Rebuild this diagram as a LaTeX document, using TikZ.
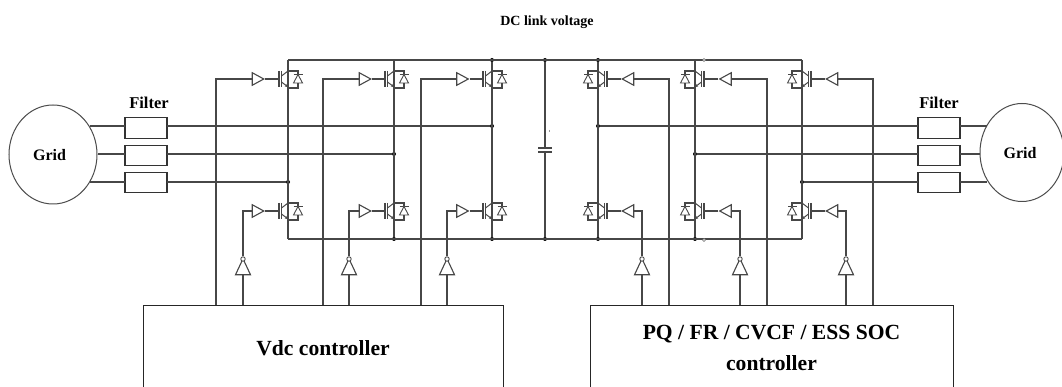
\documentclass[tikz,border=0pt]{standalone}
\usepackage{fontspec}
\setmainfont{Liberation Serif}
\usetikzlibrary{arrows.meta,shapes.geometric}

\tikzset{
  wire/.style={draw=black!72, line width=1.25pt},
  busline/.style={draw=black!72, line width=1.5pt},
  filterbox/.style={rectangle, draw=black!80, line width=1.1pt, fill=white, minimum width=42pt, minimum height=20.5pt, inner sep=0pt},
  gridnode/.style={ellipse, draw=black!70, line width=1pt, fill=white, inner sep=0pt},
  ctrlbox/.style={rectangle, draw=black!85, line width=1pt, minimum height=86pt, inner sep=0pt, align=center, font=\fontsize{21.6}{31}\selectfont\bfseries},
  label/.style={inner sep=0pt, font=\fontsize{16.5}{18}\selectfont\bfseries},
  buffer/.style={isosceles triangle, isosceles triangle stretches, draw=black!72, line width=1.1pt, inner sep=0pt, minimum width=12.5pt, minimum height=11.5pt},
  inverter/.style={isosceles triangle, isosceles triangle stretches, shape border rotate=90, draw=black!72, line width=1.1pt, inner sep=0pt, minimum width=15pt, minimum height=16pt},
  bubble/.style={circle, draw=black!72, line width=.9pt, fill=white, inner sep=0pt, minimum size=4.4pt},
  jdot/.style={circle, fill=black, inner sep=0pt, minimum size=4pt},
  igbt/.pic={
    \draw[black!72, line width=1.2pt] (-9,-8) -- (-9,8);
    \draw[black!72, line width=1.4pt] (-6.5,-8) -- (-6.5,8);
    \draw[wire, line width=1pt] (-6.5,-3) -- (0,-8);
    \draw[wire, line width=1pt, -{Stealth[length=3pt,width=3pt]}] (-6.5,3) -- (0,8);
    \draw[wire, line width=1.1pt] (0,-8) -- (10,-8) -- (10,9) -- (0,9);
    \draw[wire, line width=.9pt] (5.5,-4.5) -- (14.5,-4.5);
    \draw[wire, line width=.9pt, fill=white] (10,-4.5) -- (5.5,4) -- (14.5,4) -- cycle;
    \draw[wire] (0,-8) -- (0,9);
    \coordinate (-gate) at (-9,0);
    \coordinate (-top) at (0,-8);
    \coordinate (-bot) at (0,9);
  }
}

\begin{document}
\begin{tikzpicture}[x=1pt,y=-1pt]

  \useasboundingbox (0,0) rectangle (1062,387);
  \clip (0,0) rectangle (1062,387);

  % bus ends and capacitor
  \coordinate (tl) at (288,60);
  \coordinate (tr) at (802,60);
  \coordinate (bl) at (288,239);
  \coordinate (br) at (802,239);
  \coordinate (cu) at (545,148);
  \coordinate (cd) at (545,152);
  \coordinate (t2) at (394,60);
  \coordinate (t5) at (695,60);

  % junctions
  \begin{scope}[every node/.style={jdot}]
    \node (t3) at (492,60) {};
    \node (tc) at (545,60) {};
    \node (t4) at (598,60) {};
    \node (b2) at (394,239) {};
    \node (b3) at (492,239) {};
    \node (bc) at (545,239) {};
    \node (b4) at (598,239) {};
    \node (b5) at (695,239) {};
    \node (p1) at (288,182) {};
    \node (p2) at (394,154) {};
    \node (p3) at (492,126) {};
    \node (p4) at (598,126) {};
    \node (p5) at (695,154) {};
    \node (p6) at (802,182) {};
  \end{scope}

  % switches
  \pic (u1) at (288,79) {igbt};
  \pic (u2) at (394,79) {igbt};
  \pic (u3) at (492,79) {igbt};
  \pic[xscale=-1] (u4) at (598,79) {igbt};
  \pic[xscale=-1] (u5) at (695,79) {igbt};
  \pic[xscale=-1] (u6) at (802,79) {igbt};
  \pic (d1) at (288,211) {igbt};
  \pic (d2) at (394,211) {igbt};
  \pic (d3) at (492,211) {igbt};
  \pic[xscale=-1] (d4) at (598,211) {igbt};
  \pic[xscale=-1] (d5) at (695,211) {igbt};
  \pic[xscale=-1] (d6) at (802,211) {igbt};

  \draw[busline] (tl) -- (tr);
  \draw[busline] (bl) -- (br);

  \begin{scope}[every path/.style={wire}]
    \draw (tl) -- (u1-top);
    \draw (t2) -- (u2-top);
    \draw (t3) -- (u3-top);
    \draw (t4) -- (u4-top);
    \draw (t5) -- (u5-top);
    \draw (tr) -- (u6-top);
    \draw (u1-bot) -- (d1-top);
    \draw (u2-bot) -- (d2-top);
    \draw (u3-bot) -- (d3-top);
    \draw (u4-bot) -- (d4-top);
    \draw (u5-bot) -- (d5-top);
    \draw (u6-bot) -- (d6-top);
    \draw (d1-bot) -- (bl);
    \draw (d2-bot) -- (b2);
    \draw (d3-bot) -- (b3);
    \draw (d4-bot) -- (b4);
    \draw (d5-bot) -- (b5);
    \draw (d6-bot) -- (br);
    \draw (tc) -- (cu);
    \draw (cd) -- (bc);
    \draw[line width=1.4pt] (538,148) -- (552,148);
    \draw[line width=1.4pt] (538,152) -- (552,152);
  \end{scope}
  \draw[black!40, line width=.7pt] (549,130) -- (549,132);

  % the two small marks on the buses
  \node[bubble, minimum size=3pt, line width=.5pt, draw=black!60] (m1) at (704,60) {};
  \node[bubble, minimum size=3pt, line width=.5pt, draw=black!60] (m2) at (704,240) {};

  % grids and filters
  \node[gridnode, minimum width=88pt, minimum height=99pt] (gridl) at (53,154.5) {};
  \node[gridnode, minimum width=84pt, minimum height=98pt] (gridr) at (1022,152.5) {};
  \node[label, font=\fontsize{16}{18}\selectfont\bfseries] (gridlt) at (49.5,155) {Grid};
  \node[label, font=\fontsize{16}{18}\selectfont\bfseries] (gridrt) at (1020,153) {Grid};

  \node[filterbox] (f1) at (146,128) {};
  \node[filterbox] (f2) at (146,155.5) {};
  \node[filterbox] (f3) at (146,182.5) {};
  \node[filterbox] (f4) at (939,128) {};
  \node[filterbox] (f5) at (939,155.5) {};
  \node[filterbox] (f6) at (939,182.5) {};

  \begin{scope}[every path/.style={wire}]
    \draw (gridl.38 |- 0,126) -- (125,126);
    \draw (gridl.east |- 0,154) -- (125,154);
    \draw (gridl.-38 |- 0,182) -- (125,182);
    \draw (167,126) -- (p3);
    \draw (167,154) -- (p2);
    \draw (167,182) -- (p1);
    \draw (p4) -- (918,126);
    \draw (p5) -- (918,154);
    \draw (p6) -- (918,182);
    \draw (960,126) -- (gridr.141 |- 0,126);
    \draw (960,154) -- (gridr.west |- 0,154);
    \draw (960,182) -- (gridr.-141 |- 0,182);
  \end{scope}

  % controllers
  \node[ctrlbox, minimum width=360pt] (vdc) at (323,348) {Vdc controller};
  \node[ctrlbox, minimum width=363pt] (pq) at (771.5,348) {PQ / FR / CVCF / ESS SOC\\controller};

  % gate drivers
  \begin{scope}[every node/.style={buffer}]
    \node (bu1) at (256,79) {};
    \node (bu2) at (363,79) {};
    \node (bu3) at (460.5,79) {};
    \node (bu4) at (256,211) {};
    \node (bu5) at (363,211) {};
    \node (bu6) at (460.5,211) {};
    \node[shape border rotate=180] (bu7) at (630,79) {};
    \node[shape border rotate=180] (bu8) at (727.5,79) {};
    \node[shape border rotate=180] (bu9) at (834,79) {};
    \node[shape border rotate=180] (bu10) at (630,211) {};
    \node[shape border rotate=180] (bu11) at (727.5,211) {};
    \node[shape border rotate=180] (bu12) at (834,211) {};
  \end{scope}

  \begin{scope}[every node/.style={inverter}]
    \node (in1) at (243,270) {};
    \node (in2) at (349,270) {};
    \node (in3) at (447,270) {};
    \node (in4) at (642,270) {};
    \node (in5) at (740,270) {};
    \node (in6) at (846,270) {};
  \end{scope}

  \begin{scope}[every node/.style={bubble}]
    \node (ci1) at (243,259) {};
    \node (ci2) at (349,259) {};
    \node (ci3) at (447,259) {};
    \node (ci4) at (642,259) {};
    \node (ci5) at (740,259) {};
    \node (ci6) at (846,259) {};
  \end{scope}

  \begin{scope}[every path/.style={wire}]
    \draw (bu1.apex) -- (u1-gate);
    \draw (bu2.apex) -- (u2-gate);
    \draw (bu3.apex) -- (u3-gate);
    \draw (bu4.apex) -- (d1-gate);
    \draw (bu5.apex) -- (d2-gate);
    \draw (bu6.apex) -- (d3-gate);
    \draw (bu7.apex) -- (u4-gate);
    \draw (bu8.apex) -- (u5-gate);
    \draw (bu9.apex) -- (u6-gate);
    \draw (bu10.apex) -- (d4-gate);
    \draw (bu11.apex) -- (d5-gate);
    \draw (bu12.apex) -- (d6-gate);

    \draw (bu1.lower side) -| (216,305);
    \draw (bu2.lower side) -| (323,305);
    \draw (bu3.lower side) -| (421,305);
    \draw (bu7.lower side) -| (669,305);
    \draw (bu8.lower side) -| (767,305);
    \draw (bu9.lower side) -| (873,305);

    \draw (ci1) |- (bu4.lower side);
    \draw (ci2) |- (bu5.lower side);
    \draw (ci3) |- (bu6.lower side);
    \draw (ci4) |- (bu10.lower side);
    \draw (ci5) |- (bu11.lower side);
    \draw (ci6) |- (bu12.lower side);

    \draw (in1.lower side) -- (243,305);
    \draw (in2.lower side) -- (349,305);
    \draw (in3.lower side) -- (447,305);
    \draw (in4.lower side) -- (642,305);
    \draw (in5.lower side) -- (740,305);
    \draw (in6.lower side) -- (846,305);
  \end{scope}

  % texts
  \node[label, font=\fontsize{14}{15}\selectfont\bfseries] (title) at (547,22.5) {DC link voltage};
  \node[label] (fl) at (149,103) {Filter};
  \node[label] (fr) at (939,103) {Filter};

\end{tikzpicture}
\end{document}
